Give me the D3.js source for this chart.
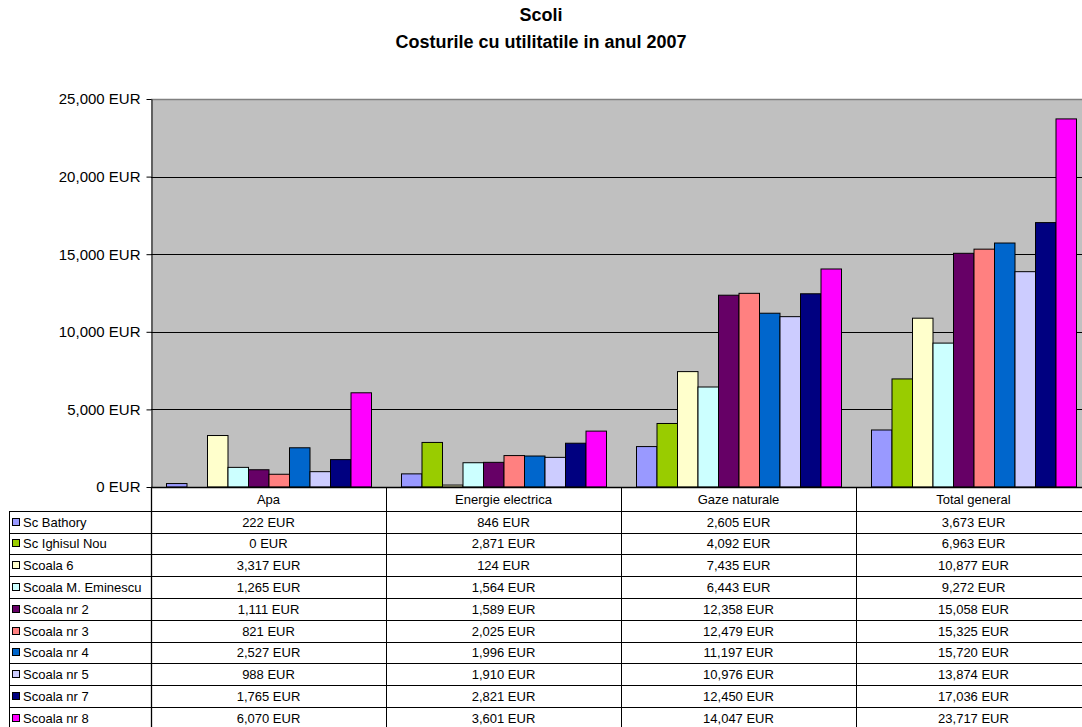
<!DOCTYPE html>
<html><head><meta charset="utf-8">
<script src="https://cdn.jsdelivr.net/npm/d3@7"></script>
<style>body{margin:0;background:#fff}svg{display:block;font-family:"Liberation Sans",Arial,sans-serif}</style>
</head><body><svg id="c" width="1082" height="727"></svg>
<script>
const categories = ["Apa","Energie electrica","Gaze naturale","Total general"];
const seriesNames = ["Sc Bathory","Sc Ighisul Nou","Scoala 6","Scoala M. Eminescu","Scoala nr 2","Scoala nr 3","Scoala nr 4","Scoala nr 5","Scoala nr 7","Scoala nr 8"];
const scBathory = [222,846,2605,3673];
const scIghisulNou = [0,2871,4092,6963];
const scoala6 = [3317,124,7435,10877];
const scoalaEminescu = [1265,1564,6443,9272];
const scoalaNr2 = [1111,1589,12358,15058];
const scoalaNr3 = [821,2025,12479,15325];
const scoalaNr4 = [2527,1996,11197,15720];
const scoalaNr5 = [988,1910,10976,13874];
const scoalaNr7 = [1765,2821,12450,17036];
const scoalaNr8 = [6070,3601,14047,23717];
const yTicks = [0,5000,10000,15000,20000,25000];
const colors = ["#9999FF","#99CC00","#FFFFCC","#CCFFFF","#660066","#FF8080","#0066CC","#CCCCFF","#000080","#FF00FF"];

const seriesValues = [scBathory,scIghisulNou,scoala6,scoalaEminescu,scoalaNr2,scoalaNr3,scoalaNr4,scoalaNr5,scoalaNr7,scoalaNr8];
const series = seriesNames.map((n,i)=>({name:n,values:seriesValues[i],color:colors[i]}));

const svg = d3.select("#c");
const L=151, R=1091, T=99, B=487;
const fmt = v => d3.format(",")(v) + " EUR";

const x0 = d3.scaleBand().domain(categories).range([L,R]).padding(0);
const bw = x0.bandwidth();
const x1 = d3.scaleBand().domain(d3.range(series.length)).range([15, bw-15]).padding(0);
const y = d3.scaleLinear().domain([0,25000]).range([B,T]);

// titles
svg.append("text").attr("x",541).attr("y",21).attr("text-anchor","middle").attr("font-weight","bold").attr("font-size",18).text("Scoli");
svg.append("text").attr("x",541).attr("y",48).attr("text-anchor","middle").attr("font-weight","bold").attr("font-size",18).text("Costurile cu utilitatile in anul 2007");

// plot bg
svg.append("rect").attr("x",L).attr("y",T).attr("width",R-L).attr("height",B-T).attr("fill","#C0C0C0");
// gridlines
svg.append("g").selectAll("line").data(yTicks.filter(t=>t>0 && t<25000)).join("line")
  .attr("x1",L).attr("x2",R).attr("y1",d=>Math.round(y(d))+0.5).attr("y2",d=>Math.round(y(d))+0.5)
  .attr("stroke","#000").attr("stroke-width",1);
svg.append("line").attr("x1",L).attr("x2",R).attr("y1",T+0.5).attr("y2",T+0.5).attr("stroke","#808080").attr("stroke-width",1.5);

// bars
const g = svg.append("g");
categories.forEach((c,ci)=>{
  g.append("g").selectAll("rect").data(series).join("rect")
    .attr("x",(d,i)=>x0(c)+x1(i)+0.5)
    .attr("y",d=>y(d.values[ci]))
    .attr("width",x1.bandwidth())
    .attr("height",d=>B-y(d.values[ci]))
    .attr("fill",d=>d.color).attr("stroke","#000").attr("stroke-width",1);
});

// y axis
const ya = d3.axisLeft(y).tickValues(yTicks).tickFormat(fmt).tickSize(5).tickSizeOuter(0);
const yg = svg.append("g").attr("transform",`translate(${L+0.5},0)`).call(ya);
yg.select(".domain").attr("stroke","#000");
yg.selectAll(".tick line").attr("stroke","#000");
yg.selectAll(".tick text").attr("font-size",15).attr("fill","#000").attr("x",-11)
  .attr("font-family","'Liberation Sans',Arial,sans-serif");

// data table
const hdrTop = B, hdrBot = 510.7, rowH = 21.8;
const tbl = svg.append("g").attr("font-size",13).attr("fill","#000");
tbl.append("line").attr("x1",L).attr("x2",1082).attr("y1",B+0.5).attr("y2",B+0.5).attr("stroke","#000").attr("stroke-width",1.3);
categories.forEach(c=>{
  tbl.append("text").attr("x",x0(c)+bw/2).attr("y",(hdrTop+hdrBot)/2+5).attr("text-anchor","middle").text(c);
});
const rowTops = d3.range(series.length+1).map(i=>hdrBot+i*rowH);
rowTops.forEach(yy=>{
  tbl.append("line").attr("x1",9).attr("x2",1082).attr("y1",Math.round(yy)+0.5).attr("y2",Math.round(yy)+0.5).attr("stroke","#000").attr("stroke-width",1);
});
tbl.append("line").attr("x1",9.5).attr("x2",9.5).attr("y1",Math.round(hdrBot)).attr("y2",727).attr("stroke","#000");
categories.forEach((c,i)=>{
  const xx = Math.round(x0(c))+0.5;
  tbl.append("line").attr("x1",xx).attr("x2",xx).attr("y1",B).attr("y2",727).attr("stroke","#000").attr("stroke-width",i===0?1.3:1);
});
series.forEach((s,i)=>{
  const top = hdrBot+i*rowH, mid = top+rowH/2;
  tbl.append("rect").attr("x",12.5).attr("y",Math.round(mid-4)+0.5).attr("width",7).attr("height",7).attr("fill",s.color).attr("stroke","#000").attr("stroke-width",1);
  tbl.append("text").attr("x",23).attr("y",mid+5).text(s.name);
  categories.forEach((c,ci)=>{
    tbl.append("text").attr("x",x0(c)+bw/2).attr("y",mid+5).attr("text-anchor","middle").text(fmt(s.values[ci]));
  });
});
</script></body></html>
